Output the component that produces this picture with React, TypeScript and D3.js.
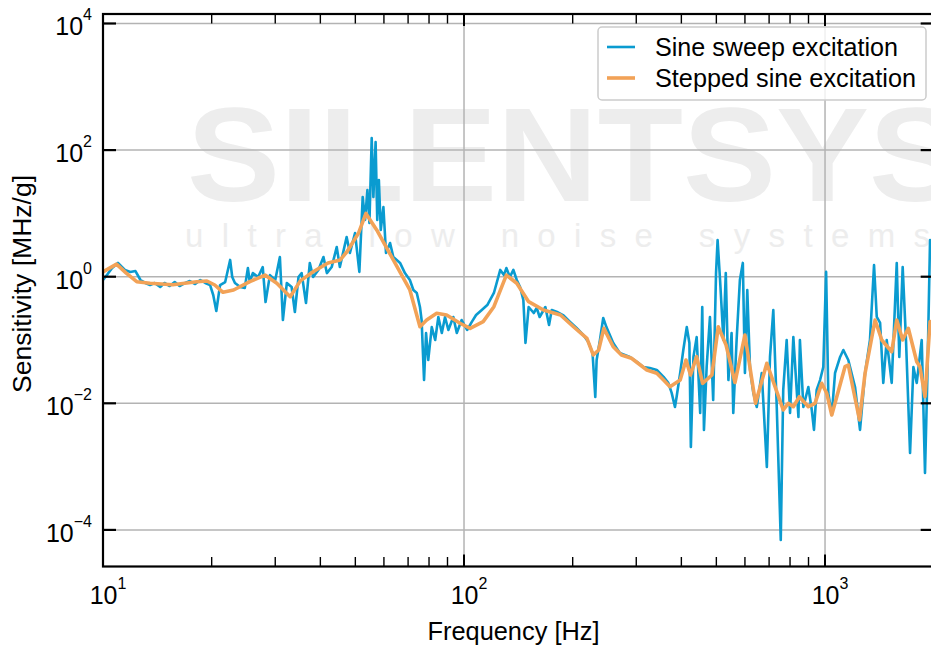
import React from 'react';
import * as d3 from 'd3';

// sine sweep trace: frequency [Hz] and sensitivity [MHz/g]
const sweepFreq = [
    10.0, 10.3, 10.6, 11.0, 11.5, 11.9, 12.3, 12.7, 13.1, 13.5,
    13.9, 14.4, 14.8, 15.3, 15.8, 16.3, 16.9, 17.4, 18.0, 18.6,
    19.2, 19.8, 20.2, 20.6, 21.1, 21.8, 22.5, 22.8, 23.2, 24.0,
    24.7, 25.2, 25.5, 26.0, 26.9, 27.7, 28.2, 29.0, 30.0, 30.9,
    31.5, 32.3, 33.3, 34.0, 34.8, 35.5, 36.5, 37.4, 38.2, 39.5,
    40.8, 41.7, 43.0, 44.4, 45.3, 47.3, 48.3, 49.9, 51.3, 52.4,
    53.2, 54.0, 54.7, 55.5, 56.1, 56.9, 57.5, 58.1, 58.8, 59.8,
    60.8, 62.4, 63.7, 65.1, 66.5, 68.6, 70.8, 72.4, 74.0, 75.5,
    76.3, 77.5, 78.5, 79.6, 81.4, 83.2, 84.9, 86.8, 88.6, 90.5,
    93.4, 95.5, 98.5, 102, 105, 108, 112, 116, 121, 126,
    129, 131, 134, 137, 140, 143, 146, 148, 151, 156,
    159, 162, 168, 172, 175, 181, 188, 197, 205, 214,
    221, 227, 231, 233, 238, 243, 248, 259, 270, 288,
    301, 314, 327, 342, 357, 368, 376, 384, 388, 397,
    405, 414, 421, 425, 432, 441, 451, 457, 462, 470,
    480, 490, 499, 504, 512, 523, 531, 540, 551, 557,
    569, 581, 592, 600, 609, 620, 633, 647, 668, 690,
    704, 719, 735, 754, 766, 783, 800, 817, 844, 852,
    871, 899, 919, 932, 948, 969, 989, 1007, 1021, 1044,
    1066, 1101, 1124, 1160, 1211, 1250, 1291, 1332, 1367, 1391,
    1421, 1450, 1482, 1530, 1580, 1606, 1641, 1676, 1720, 1757,
    1795, 1853, 1892, 1920, 1954
];
const sweepSens = [
    0.887, 1.10, 1.37, 1.65, 1.28, 1.19, 1.23, 0.887, 0.796, 0.739,
    0.796, 0.687, 0.796, 0.713, 0.824, 0.713, 0.796, 0.855, 0.767, 0.887,
    0.796, 0.739, 0.514, 0.287, 0.739, 0.824, 1.84, 0.99, 0.796, 0.687,
    0.662, 1.37, 0.824, 1.14, 0.99, 1.42, 0.398, 1.06, 0.887, 2.05,
    0.207, 0.796, 0.687, 0.277, 0.99, 1.14, 0.384, 1.65, 0.99, 1.28,
    2.05, 1.14, 1.42, 2.94, 1.42, 4.24, 2.37, 4.90, 1.19, 18.2,
    7.87, 23.4, 7.05, 155, 18.2, 134, 7.87, 33.7, 5.47, 12.6,
    2.37, 3.41, 2.05, 1.84, 1.65, 1.14, 0.887, 0.617, 0.553, 0.332,
    0.207, 0.0233, 0.129, 0.0483, 0.160, 0.1, 0.231, 0.129, 0.231, 0.144,
    0.231, 0.129, 0.207, 0.144, 0.192, 0.248, 0.298, 0.357, 0.553, 1.28,
    1.06, 1.37, 0.99, 1.28, 0.887, 0.687, 0.428, 0.0897, 0.332, 0.267,
    0.32, 0.231, 0.332, 0.173, 0.298, 0.277, 0.248, 0.192, 0.155, 0.12,
    0.0929, 0.0623, 0.0126, 0.0483, 0.1, 0.223, 0.160, 0.0897, 0.0623, 0.054,
    0.0451, 0.0375, 0.0361, 0.0336, 0.0261, 0.021, 0.0146, 0.00875, 0.0126, 0.0301,
    0.0695, 0.160, 0.0897, 0.00204, 0.054, 0.111, 0.00703, 0.332, 0.0038, 0.0375,
    0.231, 0.0113, 1.14, 3.80, 0.887, 0.1, 1.14, 0.0233, 0.129, 0.00703,
    0.1, 0.887, 1.65, 0.0301, 0.617, 0.0336, 0.0146, 0.00875, 0.0301, 0.000986,
    0.054, 0.298, 0.00875, 0.0000692, 0.0162, 0.1, 0.00703, 0.111, 0.00608, 0.1,
    0.00875, 0.0181, 0.00784, 0.0038, 0.0162, 0.0233, 0.0375, 1.19, 0.0146, 0.00653,
    0.0301, 0.054, 0.0695, 0.0483, 0.0181, 0.0038, 0.0301, 0.1, 1.53, 0.231,
    0.186, 0.021, 0.1, 0.021, 1.65, 0.054, 1.42, 0.1, 0.00164, 0.0375,
    0.021, 0.1, 0.000794, 0.0233, 3.80
];

// stepped sine measurement points
const steppedFreq = [
    10.0, 10.9, 11.6, 12.4, 13.5, 15.6, 18.2, 19.4, 20.4, 21.5,
    23.0, 25.5, 28.1, 30.3, 33.0, 35.2, 38.2, 42.0, 45.4, 47.4,
    51.0, 53.5, 57.3, 63.7, 70.8, 75.5, 78.8, 84.0, 89.5, 97.5,
    104, 113, 121, 131, 140, 151, 166, 185, 201, 219,
    228, 236, 244, 259, 273, 291, 321, 342, 357, 372,
    397, 412, 424, 441, 458, 486, 506, 532, 563, 600,
    642, 690, 727, 766, 791, 817, 849, 899, 938, 979,
    1011, 1044, 1136, 1160, 1246, 1291, 1376, 1436, 1530, 1580,
    1641, 1701, 1795, 1832, 1892, 1954
];
const steppedSens = [
    1.19, 1.58, 1.14, 0.834, 0.787, 0.748, 0.834, 0.855, 0.739, 0.567,
    0.617, 0.834, 1.06, 0.787, 0.483, 0.86, 1.20, 1.65, 1.84, 2.48,
    4.85, 10.0, 5.47, 1.84, 0.617, 0.162, 0.207, 0.264, 0.248, 0.184,
    0.153, 0.195, 0.336, 1.06, 0.787, 0.403, 0.298, 0.248, 0.162, 0.106,
    0.058, 0.0695, 0.153, 0.0784, 0.058, 0.0514, 0.0336, 0.0298, 0.0233, 0.0183,
    0.0233, 0.0483, 0.028, 0.0545, 0.0207, 0.028, 0.162, 0.0834, 0.0213, 0.12,
    0.01, 0.0428, 0.0183, 0.00784, 0.01, 0.00884, 0.0127, 0.00884, 0.01, 0.0207,
    0.0144, 0.00653, 0.0379, 0.0403, 0.00545, 0.0298, 0.207, 0.1, 0.0653, 0.207,
    0.1, 0.153, 0.0454, 0.0379, 0.0127, 0.195
];

const xMajorExp = [1, 2, 3];
const yMajorExp = [-4, -2, 0, 2, 4];
const legendLabels = ['Sine sweep excitation', 'Stepped sine excitation'];
const seriesColors = ['#0a9bd0', '#f2a257'];

const width = 931;
const height = 645;
const plot = { left: 103, right: 933.7, top: 14, bottom: 566.5 };
const font = '"Liberation Sans", Arial, Helvetica, sans-serif';

const expText = (n: number) => (n < 0 ? '\u2212' + Math.abs(n) : String(n));

const App = () => {
    const x = d3.scaleLog().domain([10, 2000]).range([plot.left, plot.right]);
    const y = d3.scaleLog()
        .domain([Math.pow(10, -4.578), Math.pow(10, 4.15)])
        .range([plot.bottom, plot.top]);

    const isMajor = (t: number) => Math.abs(Math.log10(t) - Math.round(Math.log10(t))) < 1e-9;
    const xTicks = x.ticks();

    const line = d3.line<[number, number]>()
        .x(d => x(d[0]))
        .y(d => y(d[1]));
    const sweepPath = line(d3.zip(sweepFreq, sweepSens) as [number, number][]);
    const steppedPath = line(d3.zip(steppedFreq, steppedSens) as [number, number][]);

    return (
        <svg width={width} height={height} style={{ position: 'absolute', left: 0, top: 0, background: '#fff' }}
             fontFamily={font}>
            <defs>
                <clipPath id="plotArea">
                    <rect x={plot.left} y={plot.top} width={plot.right - plot.left} height={plot.bottom - plot.top} />
                </clipPath>
            </defs>
            <rect width={width} height={height} fill="#fff" />

            {/* watermark */}
            <g clipPath="url(#plotArea)">
                <text x={187} y={201} fontSize={134} fontWeight="bold" fill="#ededed"
                      textLength={775} lengthAdjust="spacingAndGlyphs">SILENTSYS</text>
                <text x={185} y={247} fontSize={33} fill="#ededed"
                      textLength={745} lengthAdjust="spacing">ultra low noise systems</text>
            </g>

            {/* grid */}
            <g stroke="#b3b3b3" strokeWidth={1.5}>
                {xMajorExp.map(e =>
                    <line key={'gx' + e} x1={x(Math.pow(10, e))} x2={x(Math.pow(10, e))} y1={plot.top} y2={plot.bottom} />
                )}
                {yMajorExp.map(e =>
                    <line key={'gy' + e} x1={plot.left} x2={plot.right} y1={y(Math.pow(10, e))} y2={y(Math.pow(10, e))} />
                )}
            </g>

            <g clipPath="url(#plotArea)" fill="none" strokeLinejoin="round" strokeLinecap="round">
                <path d={sweepPath || ''} stroke={seriesColors[0]} strokeWidth={2.6} />
                <path d={steppedPath || ''} stroke={seriesColors[1]} strokeWidth={3.6} />
            </g>

            {/* frame and ticks */}
            <g stroke="#000">
                <rect x={plot.left} y={plot.top} width={plot.right - plot.left} height={plot.bottom - plot.top}
                      fill="none" strokeWidth={2.2} />
                {xTicks.map((t, i) => {
                    const len = isMajor(t) ? 12 : 9.5;
                    const w = isMajor(t) ? 2 : 1.4;
                    return (
                        <g key={'xt' + i} strokeWidth={w}>
                            <line x1={x(t)} x2={x(t)} y1={plot.bottom} y2={plot.bottom - len} />
                            <line x1={x(t)} x2={x(t)} y1={plot.top} y2={plot.top + len} />
                        </g>
                    );
                })}
                {yMajorExp.map(e =>
                    <g key={'yt' + e} strokeWidth={2.2}>
                        <line x1={plot.left} x2={plot.left + 13} y1={y(Math.pow(10, e))} y2={y(Math.pow(10, e))} />
                        <line x1={plot.right} x2={plot.right - 13} y1={y(Math.pow(10, e))} y2={y(Math.pow(10, e))} />
                    </g>
                )}
            </g>

            {/* tick labels */}
            <g fill="#000">
                {yMajorExp.map(e =>
                    <text key={'yl' + e} x={92} y={y(Math.pow(10, e)) + 12} fontSize={25} textAnchor="end">
                        10<tspan dy={-15} fontSize={16}>{expText(e)}</tspan>
                    </text>
                )}
                {xMajorExp.map(e =>
                    <text key={'xl' + e} x={x(Math.pow(10, e)) + 5} y={604} fontSize={25} textAnchor="middle">
                        10<tspan dy={-15} fontSize={16}>{expText(e)}</tspan>
                    </text>
                )}
            </g>

            {/* axis labels */}
            <text x={(plot.left + 936) / 2 - 6} y={640} fontSize={26} textAnchor="middle"
                  textLength={172} lengthAdjust="spacingAndGlyphs">Frequency [Hz]</text>
            <text transform="translate(31,284) rotate(-90)" fontSize={26} textAnchor="middle"
                  textLength={218} lengthAdjust="spacingAndGlyphs">Sensitivity [MHz/g]</text>

            {/* legend */}
            <g>
                <rect x={598} y={27} width={328} height={73} rx={4} fill="#fff" fillOpacity={0.8}
                      stroke="#cccccc" strokeWidth={1.5} />
                {legendLabels.map((label, i) =>
                    <g key={label}>
                        <line x1={607} x2={635} y1={47 + i * 31} y2={47 + i * 31} stroke={seriesColors[i]}
                              strokeWidth={i === 0 ? 2.6 : 3.6} />
                        <text x={655} y={56 + i * 31} fontSize={26}
                              textLength={i === 0 ? 243 : 261} lengthAdjust="spacingAndGlyphs">{label}</text>
                    </g>
                )}
            </g>
        </svg>
    );
};

export default App;
